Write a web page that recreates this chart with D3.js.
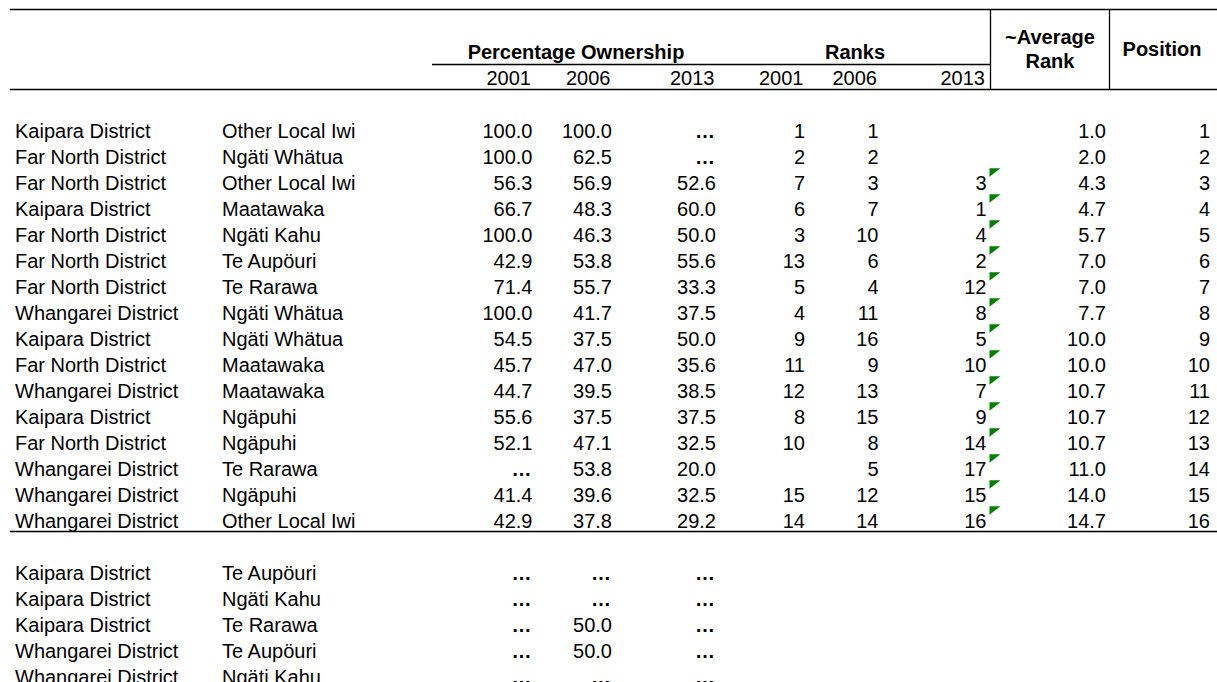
<!DOCTYPE html>
<html><head><meta charset="utf-8">
<script src="https://cdn.jsdelivr.net/npm/d3@7"></script>
<style>html,body{margin:0;padding:0;background:#fff;} svg{display:block;font-family:"Liberation Sans",Arial,sans-serif;}</style>
</head><body><svg id="c" width="1217" height="682"></svg>
<script>
// ---- data ----
const districts = ["Kaipara District","Far North District","Far North District","Kaipara District","Far North District","Far North District","Far North District","Whangarei District","Kaipara District","Far North District","Whangarei District","Kaipara District","Far North District","Whangarei District","Whangarei District","Whangarei District"];
const iwi = ["Other Local Iwi","Ngäti Whätua","Other Local Iwi","Maatawaka","Ngäti Kahu","Te Aupöuri","Te Rarawa","Ngäti Whätua","Ngäti Whätua","Maatawaka","Maatawaka","Ngäpuhi","Ngäpuhi","Te Rarawa","Ngäpuhi","Other Local Iwi"];
const pct2001 = [100.0,100.0,56.3,66.7,100.0,42.9,71.4,100.0,54.5,45.7,44.7,55.6,52.1,null,41.4,42.9];
const pct2006 = [100.0,62.5,56.9,48.3,46.3,53.8,55.7,41.7,37.5,47.0,39.5,37.5,47.1,53.8,39.6,37.8];
const pct2013 = [null,null,52.6,60.0,50.0,55.6,33.3,37.5,50.0,35.6,38.5,37.5,32.5,20.0,32.5,29.2];
const rank2001 = [1,2,7,6,3,13,5,4,9,11,12,8,10,null,15,14];
const rank2006 = [1,2,3,7,10,6,4,11,16,9,13,15,8,5,12,14];
const rank2013 = [null,null,3,1,4,2,12,8,5,10,7,9,14,17,15,16];
const avgRank = [1.0,2.0,4.3,4.7,5.7,7.0,7.0,7.7,10.0,10.0,10.7,10.7,10.7,11.0,14.0,14.7];
const position = [1,2,3,4,5,6,7,8,9,10,11,12,13,14,15,16];

const otherDistricts = ["Kaipara District","Kaipara District","Kaipara District","Whangarei District","Whangarei District"];
const otherIwi = ["Te Aupöuri","Ngäti Kahu","Te Rarawa","Te Aupöuri","Ngäti Kahu"];
const otherPct2001 = [null,null,null,null,null];
const otherPct2006 = [null,null,50.0,50.0,null];
const otherPct2013 = [null,null,null,null,null];

const years = ["2001","2006","2013"];
const groupTitles = ["Percentage Ownership","Ranks"];
const avgTitle = ["~Average","Rank"];
const posTitle = "Position";

// ---- layout ----
const svg = d3.select("#c");
const W = 1217;
const FS = 20;
const cols = ["district","iwi","p01","p06","p13","r01","r06","r13","avg","pos"];
const x = d3.scaleOrdinal().domain(cols).range([15,222,532.5,612,716,805,878.5,986.5,1106,1210]);
const gap = 2;
const y = d3.scaleLinear().domain([0, 21]).range([137.5, 137.5 + 26*21]);

const f1 = d3.format(".1f");
const pctText = v => v == null ? "\u2026" : f1(v);

function txt(xv, yv, s, opts={}) {
  return svg.append("text").attr("x", xv).attr("y", yv)
    .attr("font-size", opts.size || FS)
    .attr("font-weight", opts.bold ? "bold" : "normal")
    .attr("text-anchor", opts.anchor || "start")
    .attr("fill", "#000").text(s);
}
function hline(x1, x2, yv) {
  svg.append("line").attr("x1", x1).attr("x2", x2).attr("y1", yv).attr("y2", yv)
    .attr("stroke", "#000").attr("stroke-width", 1.3);
}
function vline(xv, y1, y2) {
  svg.append("line").attr("x1", xv).attr("x2", xv).attr("y1", y1).attr("y2", y2)
    .attr("stroke", "#000").attr("stroke-width", 1.3);
}

svg.append("rect").attr("width", W).attr("height", 682).attr("fill", "#fff");

// header lines
hline(10, W, 9.5);
hline(432, 990, 64.5);
hline(10, W, 89.5);
vline(990.5, 9, 89.5);
vline(1109.5, 9, 89.5);

// header text
txt(576, 59, groupTitles[0], {bold:true, anchor:"middle"});
txt(855, 59, groupTitles[1], {bold:true, anchor:"middle"});
txt(1050, 44, avgTitle[0], {bold:true, anchor:"middle"});
txt(1050, 68, avgTitle[1], {bold:true, anchor:"middle"});
txt(1162, 56, posTitle, {bold:true, anchor:"middle"});
const yearCols = [["p01","p06","p13"],["r01","r06","r13"]];
yearCols.forEach(grp => grp.forEach((c, i) => txt(x(c) - 1.5, 85, years[i], {anchor:"end"})));

// main rows
districts.forEach((d, i) => {
  const yy = y(i);
  txt(x("district"), yy, d);
  txt(x("iwi"), yy, iwi[i]);
  [["p01", pct2001[i]], ["p06", pct2006[i]], ["p13", pct2013[i]]].forEach(([c, v]) => {
    txt(x(c) - (v == null ? 1 : 0), yy, pctText(v), {anchor:"end", bold: v == null});
  });
  [["r01", rank2001[i]], ["r06", rank2006[i]], ["r13", rank2013[i]]].forEach(([c, v]) => {
    if (v != null) txt(x(c), yy, String(v), {anchor:"end"});
  });
  txt(x("avg"), yy, f1(avgRank[i]), {anchor:"end"});
  txt(x("pos"), yy, String(position[i]), {anchor:"end"});
  if (rank2013[i] != null) {
    const top = yy - 21.3;
    svg.append("path")
      .attr("d", `M989.5,${top} L1000.5,${top} L989.5,${top + 8.5} Z`)
      .attr("fill", "#008000");
  }
});

// separator line under ranked rows
hline(10, W, y(districts.length - 1) + 4);

// other rows
otherDistricts.forEach((d, j) => {
  const yy = y(districts.length - 1 + gap + j);
  txt(x("district"), yy, d);
  txt(x("iwi"), yy, otherIwi[j]);
  [["p01", otherPct2001[j]], ["p06", otherPct2006[j]], ["p13", otherPct2013[j]]].forEach(([c, v]) => {
    txt(x(c) - (v == null ? 1 : 0), yy, pctText(v), {anchor:"end", bold: v == null});
  });
});
</script></body></html>
